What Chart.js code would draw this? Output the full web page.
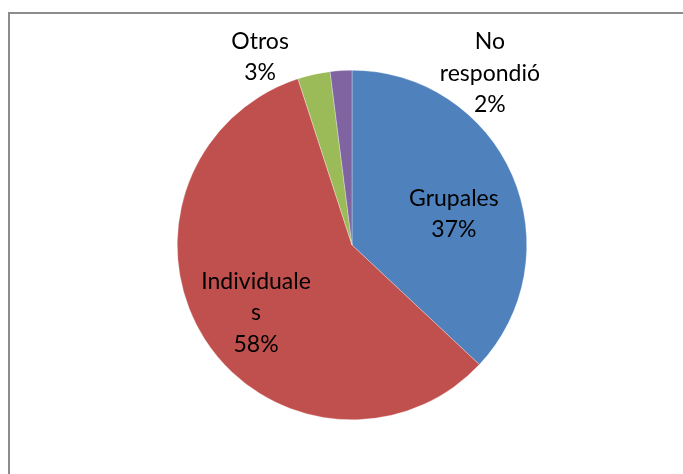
<!DOCTYPE html>
<html>
<head>
<meta charset="utf-8">
<script src="https://cdn.jsdelivr.net/npm/chart.js@4.4.0/dist/chart.umd.min.js"></script>
<style>
  html, body { margin: 0; padding: 0; background: #fff; overflow: hidden; }
  #wrap { position: relative; width: 683px; height: 474px; }
  #frame {
    position: absolute; left: 8px; top: 12px; width: 700px; height: 500px;
    border-left: 2px solid #8c8c8c; border-top: 2px solid #8c8c8c;
  }
  canvas { position: absolute; left: 0; top: 0; }
</style>
</head>
<body>
<div id="wrap">
  <div id="frame"></div>
  <canvas id="pieChart" width="683" height="474"></canvas>
</div>
<script>
// Chart data
const categories = ["Grupales", "Individuales", "Otros", "No respondió"];
const percentages = [37, 58, 3, 2];
const sliceColors = ["#4F81BD", "#C0504D", "#9BBB59", "#8064A2"];

// Label text lines (as in the original, with the word wrap) and where they sit,
// expressed as offsets from the pie centre in units of the radius.
const labelLines = [
  ["Grupales", "37%"],
  ["Individuale", "s", "58%"],
  ["Otros", "3%"],
  ["No", "respondió", "2%"],
];
const labelOffsets = [
  [0.583, -0.177],
  [-0.549, 0.389],
  [-0.526, -1.074],
  [0.789, -0.983],
];

// Draws the data labels relative to each arc's centre point
const pieLabels = {
  id: "pieLabels",
  afterDatasetsDraw(chart) {
    const ctx = chart.ctx;
    const meta = chart.getDatasetMeta(0);
    ctx.save();
    ctx.font = "23px Lato";
    ctx.fillStyle = "#000";
    ctx.textAlign = "center";
    ctx.textBaseline = "middle";
    meta.data.forEach((arc, i) => {
      const r = arc.outerRadius;
      const cx = arc.x + labelOffsets[i][0] * r;
      const cy = arc.y + labelOffsets[i][1] * r;
      const lines = labelLines[i];
      const lh = 31.5;
      lines.forEach((txt, k) => {
        ctx.fillText(txt, cx, cy + (k - (lines.length - 1) / 2) * lh);
      });
    });
    ctx.restore();
  },
};

const ctx = document.getElementById("pieChart").getContext("2d");
new Chart(ctx, {
  type: "pie",
  data: {
    labels: categories,
    datasets: [
      {
        data: percentages,
        backgroundColor: sliceColors,
        borderColor: "rgba(255,255,255,0.6)",
        borderWidth: 0.5,
      },
    ],
  },
  options: {
    responsive: false,
    animation: false,
    layout: {
      padding: { top: 70, bottom: 54, left: 177, right: 156 },
    },
    plugins: {
      legend: { display: false },
      tooltip: { enabled: false },
    },
  },
  plugins: [pieLabels],
});
</script>
</body>
</html>
